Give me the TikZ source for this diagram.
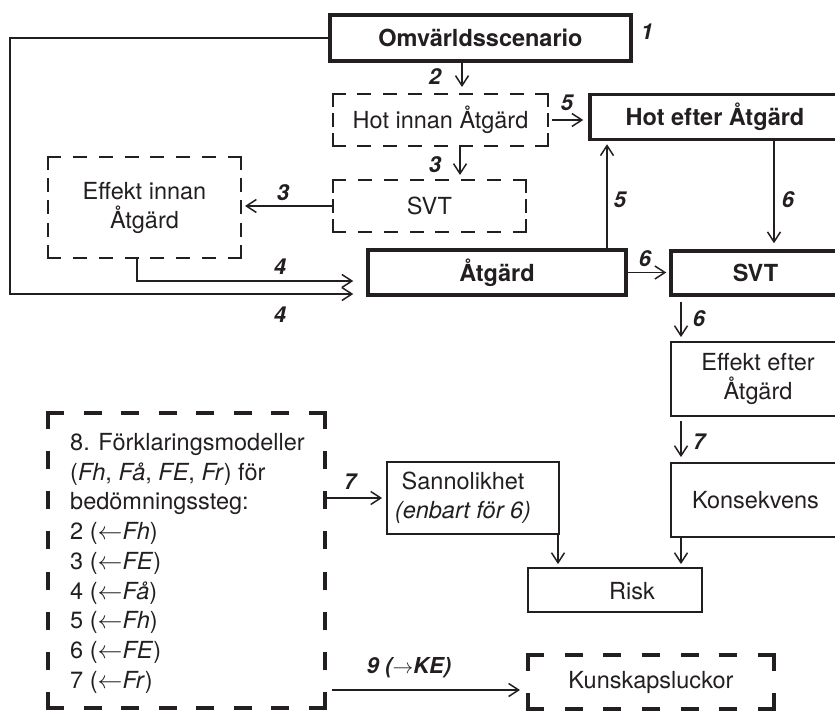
\documentclass[tikz,border=0pt]{standalone}
\usepackage{fontspec}
\setmainfont{TeX Gyre Heros}
\usetikzlibrary{arrows.meta}
\definecolor{ink}{RGB}{35,31,32}
\makeatletter
\newcommand\mydside[6]{% #1 node, #2 #3 anchors, #4 line width, #5 dash, #6 gap
  \pgfpointdiff{\pgfpointanchor{#1}{#2}}{\pgfpointanchor{#1}{#3}}%
  \edef\dsx{\the\pgf@x}\edef\dsy{\the\pgf@y}%
  \pgfmathsetmacro\dsL{veclen(\dsx,\dsy)}%
  \pgfmathsetmacro\dsN{max(2,round((\dsL+#4+#6)/(#5+#6)))}%
  \pgfmathsetmacro\dsG{(\dsL+#4-\dsN*#5)/(\dsN-1)+#4}%
  \pgfmathsetmacro\dsD{#5-#4}%
  \draw[draw=ink, line width=#4pt, line cap=rect, dash pattern=on \dsD pt off \dsG pt] (#1.#2) -- (#1.#3);}
\makeatother
\newcommand\mydashrect[4]{%
  \mydside{#1}{north west}{north east}{#2}{#3}{#4}%
  \mydside{#1}{north east}{south east}{#2}{#3}{#4}%
  \mydside{#1}{south east}{south west}{#2}{#3}{#4}%
  \mydside{#1}{south west}{north west}{#2}{#3}{#4}}
\begin{document}
\begin{tikzpicture}[x=1pt,y=-1pt,
  every node/.style={font=\fontsize{23.5}{29}\selectfont, text=ink, inner sep=0pt},
  bx/.style 2 args={rectangle, minimum width=#1, minimum height=#2},
  thickbox/.style={draw=ink, line width=3.5pt},
  thinbox/.style={draw=ink, line width=1.8pt},
  dnode/.style={outer sep=0pt},
  lab/.style={font=\fontsize{22}{26}\selectfont\bfseries\itshape},
  arr/.style={draw=ink, line width=1.5pt, -{Straight Barb[length=10pt,width=13pt]}}
]
\useasboundingbox (0,0) rectangle (835,711);
\clip (0,0) rectangle (835,711);

% boxes
\node[thickbox, bx={301}{46}] (omv) at (480.5,38) {\bfseries Omvärldsscenario};
\node[dnode, bx={215}{52}] (hotinnan) at (440.5,120) {Hot innan Åtgärd};
\node[thickbox, bx={250}{45}] (hotefter) at (715,117) {\bfseries Hot efter Åtgärd};
\node[dnode, bx={193}{52}] (svtd) at (429.5,206) {SVT};
\node[dnode, bx={193}{101}, align=center] (effin) at (144.5,207.5) {Effekt innan\\Åtgärd};
\node[thickbox, bx={258}{45}] (atg) at (497,272.5) {\bfseries Åtgärd};
\node[thickbox, bx={169}{44}] (svt) at (755.5,273) {\bfseries SVT};
\node[thinbox, bx={174}{74}, align=center] (effef) at (758,379) {Effekt efter\\Åtgärd};
\node[thinbox, bx={169}{74}] (kons) at (755.5,500) {Konsekvens};
\node[thinbox, bx={172}{72}] (sann) at (473,498) {};
\node[align=center] (sannt) at (463,498) {Sannolikhet\\\textit{(enbart för 6)}};
\node[thinbox, bx={174}{44}] (risk) at (615,590) {};
\node (riskt) at (632,591) {Risk};
\node[dnode, bx={246}{54}] (kunsk) at (651,682) {Kunskapsluckor};
\node[dnode, bx={277}{295}] (box8) at (186.5,560.5) {};

\mydashrect{hotinnan}{1.8}{14}{11}
\mydashrect{svtd}{1.8}{14}{11}
\mydashrect{effin}{1.8}{14}{11}
\mydashrect{kunsk}{4}{18}{21}
\mydashrect{box8}{4}{18}{21}

% text of box 8
\foreach \t [count=\i from 0] in {
  {8. Förklaringsmodeller},
  {(\textit{Fh}, \textit{Få}, \textit{FE}, \textit{Fr}) för},
  {bedömningssteg:},
  {2 ($\leftarrow$\textit{Fh})},
  {3 ($\leftarrow$\textit{FE})},
  {4 ($\leftarrow$\textit{Få})},
  {5 ($\leftarrow$\textit{Fh})},
  {6 ($\leftarrow$\textit{FE})},
  {7 ($\leftarrow$\textit{Fr})}}
  \node[anchor=base west] (m\i) at (70,450.5+29.7*\i) {\t};

% connectors
\coordinate (lb) at (10,294);
\draw[arr, shorten >=13pt] (omv.west) -| (lb) -- (lb -| atg.west);
\coordinate (e4) at ([xshift=-7.5pt]effin.south);
\draw[arr, shorten >=13pt] (e4) |- ([yshift=-8.5pt]atg.west);
\coordinate (a2) at ([xshift=-18.5pt]omv.south);
\draw[arr, shorten >=7pt] (a2) -- (a2 |- hotinnan.north);
\coordinate (a3) at ([xshift=19.5pt]hotinnan.south);
\draw[arr, shorten >=5pt] (a3) -- (a3 |- svtd.north);
\draw[arr, shorten >=4pt] (svtd.west) -- (svtd.west -| effin.east);
\coordinate (a5) at ([yshift=-3pt]hotefter.west);
\draw[arr, shorten <=4pt, shorten >=5pt] (a5 -| hotinnan.east) -- (a5);
\coordinate (b5) at ([xshift=110pt]atg.north);
\draw[arr, shorten >=3pt] (b5) -- (b5 |- hotefter.south);
\coordinate (a6) at ([xshift=59pt]hotefter.south);
\draw[arr, shorten >=6pt] (a6) -- (a6 |- svt.north);
\draw[arr, shorten >=3pt] (atg.east) -- (atg.east -| svt.west);
\coordinate (b6) at ([xshift=-74.5pt]svt.south);
\draw[arr, shorten <=5pt, shorten >=4pt] (b6) -- (b6 |- effef.north);
\coordinate (a7) at (b6 |- effef.south);
\draw[arr, shorten <=4pt, shorten >=5pt] (a7) -- (a7 |- kons.north);
\coordinate (r1) at ([xshift=85pt]sann.south);
\draw[arr, shorten >=3pt] (r1) -- (r1 |- risk.north);
\coordinate (r2) at (b6 |- kons.south);
\draw[arr, shorten >=3pt] (r2) -- (r2 |- risk.north);
\draw[arr, shorten >=4pt] (box8.east |- sann.west) -- (sann.west);
\coordinate (c9) at ([yshift=-8pt]kunsk.west);
\draw[arr, shorten <=7pt, shorten >=8pt] (box8.east |- c9) -- (c9);

% labels
\node[lab] (n1) at (647,32) {1};
\node[lab] (n2) at (435,77) {2};
\node[lab] (n3a) at (435,165) {3};
\node[lab] (n3b) at (283,193) {3};
\node[lab] (n4a) at (280,267) {4};
\node[lab] (n4b) at (280,315) {4};
\node[lab] (n5a) at (567,103) {5};
\node[lab] (n5b) at (620,200) {5};
\node[lab] (n6a) at (645,259) {6};
\node[lab] (n6b) at (788,200) {6};
\node[lab] (n6c) at (699,319) {6};
\node[lab] (n7a) at (699,442) {7};
\node[lab] (n7b) at (350,482) {7};
\node[lab] (n9) at (409,668) {9 ($\rightarrow$KE)};
\end{tikzpicture}
\end{document}
